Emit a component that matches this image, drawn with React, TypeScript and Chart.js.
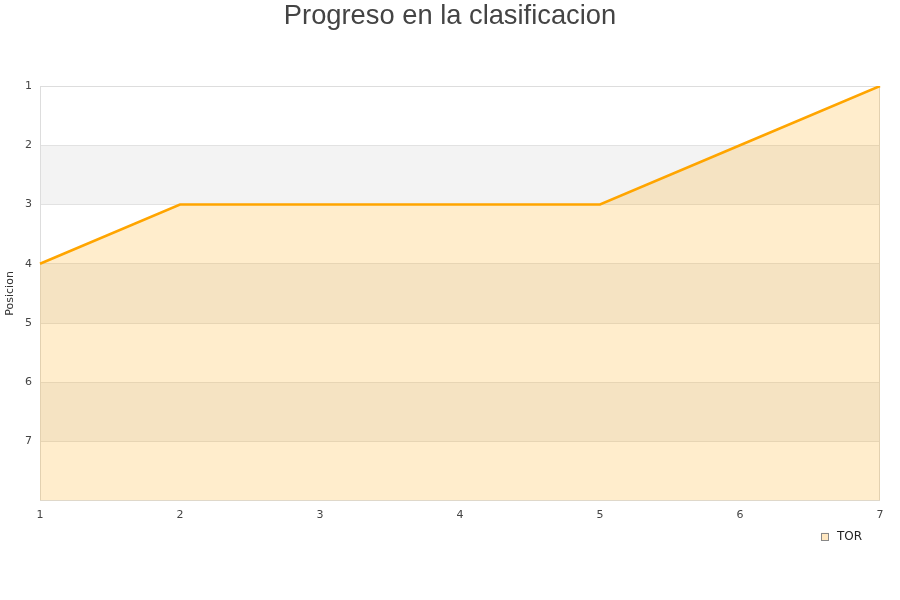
import React, { useEffect, useRef } from "react";
import { Chart, registerables } from "chart.js";

Chart.register(...registerables);

const jornadas = [1, 2, 3, 4, 5, 6, 7];
const posiciones = [4, 3, 3, 3, 3, 2, 1];
const bandas: [number, number][] = [
  [2, 3],
  [4, 5],
  [6, 7],
];
const equipo = "TOR";
const titulo = "Progreso en la clasificacion";
const tituloY = "Posicion";

const bandPlugin = {
  id: "bands",
  beforeDraw(chart: any) {
    const { ctx, chartArea, scales } = chart;
    const y = scales.y;
    ctx.save();
    ctx.fillStyle = "#f3f3f3";
    for (const [a, b] of bandas) {
      const y1 = y.getPixelForValue(a);
      const y2 = y.getPixelForValue(b);
      ctx.fillRect(chartArea.left, Math.min(y1, y2), chartArea.right - chartArea.left, Math.abs(y2 - y1));
    }
    ctx.restore();
  },
  beforeDatasetsDraw(chart: any) {
    const { ctx, chartArea } = chart;
    ctx.save();
    ctx.strokeStyle = "#dddddd";
    ctx.lineWidth = 1;
    ctx.strokeRect(
      Math.round(chartArea.left) + 0.5,
      Math.round(chartArea.top) + 0.5,
      Math.round(chartArea.right - chartArea.left) - 1,
      Math.round(chartArea.bottom - chartArea.top) - 1
    );
    ctx.restore();
  },
  afterDraw(chart: any) {
    const { ctx, width, chartArea } = chart;
    ctx.save();
    ctx.fillStyle = "#444444";
    ctx.font = "27.3px 'Liberation Sans', Arial, sans-serif";
    ctx.textAlign = "center";
    ctx.textBaseline = "middle";
    ctx.fillText(titulo, width / 2, 16);

    // legend
    ctx.font = "12px 'DejaVu Sans', sans-serif";
    const tw = ctx.measureText(equipo).width;
    const right = chartArea.right - 18;
    const cy = chartArea.bottom + 36;
    const textX = right - tw;
    const boxX = textX - 16;
    ctx.fillStyle = "#ffe7bf";
    ctx.fillRect(boxX, cy - 4, 8, 8);
    ctx.strokeStyle = "#888888";
    ctx.lineWidth = 1;
    ctx.strokeRect(Math.round(boxX) + 0.5, Math.round(cy - 4) + 0.5, 7, 7);
    ctx.fillStyle = "#222222";
    ctx.textAlign = "left";
    ctx.fillText(equipo, textX, cy);
    ctx.restore();
  },
};

export default function App() {
  const ref = useRef<HTMLCanvasElement>(null);
  useEffect(() => {
    if (!ref.current) return;
    const chart = new Chart(ref.current, {
      type: "line",
      data: {
        labels: jornadas,
        datasets: [
          {
            label: equipo,
            data: posiciones,
            borderColor: "#ffa500",
            backgroundColor: "rgba(255,165,0,0.2)",
            borderWidth: 2.5,
            pointRadius: 0,
            tension: 0,
            fill: { value: 8 },
          },
        ],
      },
      options: {
        animation: false,
        responsive: false,
        maintainAspectRatio: false,
        layout: { padding: { left: 0, right: 20, top: 86, bottom: 70 } },
        plugins: {
          title: { display: false },
          legend: { display: false },
          tooltip: { enabled: false },
        },
        scales: {
          x: {
            type: "category",
            offset: false,
            grid: { display: false, drawTicks: false },
            border: { display: false },
            ticks: {
              padding: 8,
              color: "#444444",
              font: { family: "DejaVu Sans, sans-serif", size: 11 },
              maxRotation: 0,
            },
          },
          y: {
            type: "linear",
            reverse: true,
            min: 1,
            max: 8,
            afterFit: (s: any) => {
              s.width = 40;
            },
            grid: { color: "#e2e2e2", drawTicks: false },
            border: { display: false },
            title: {
              display: true,
              text: tituloY,
              color: "#333333",
              font: { family: "DejaVu Sans, sans-serif", size: 11 },
              padding: { top: 4, bottom: 0 },
            },
            ticks: {
              stepSize: 1,
              padding: 8,
              color: "#444444",
              font: { family: "DejaVu Sans, sans-serif", size: 11 },
              callback: (v: any) => (v === 8 ? "" : String(v)),
            },
          },
        },
      },
      plugins: [bandPlugin],
    });
    return () => chart.destroy();
  }, []);
  return (
    <div style={{ position: "fixed", left: 0, top: 0, width: 900, height: 600, background: "#fff" }}>
      <canvas ref={ref} width={900} height={600} style={{ width: 900, height: 600, display: "block" }} />
    </div>
  );
}
